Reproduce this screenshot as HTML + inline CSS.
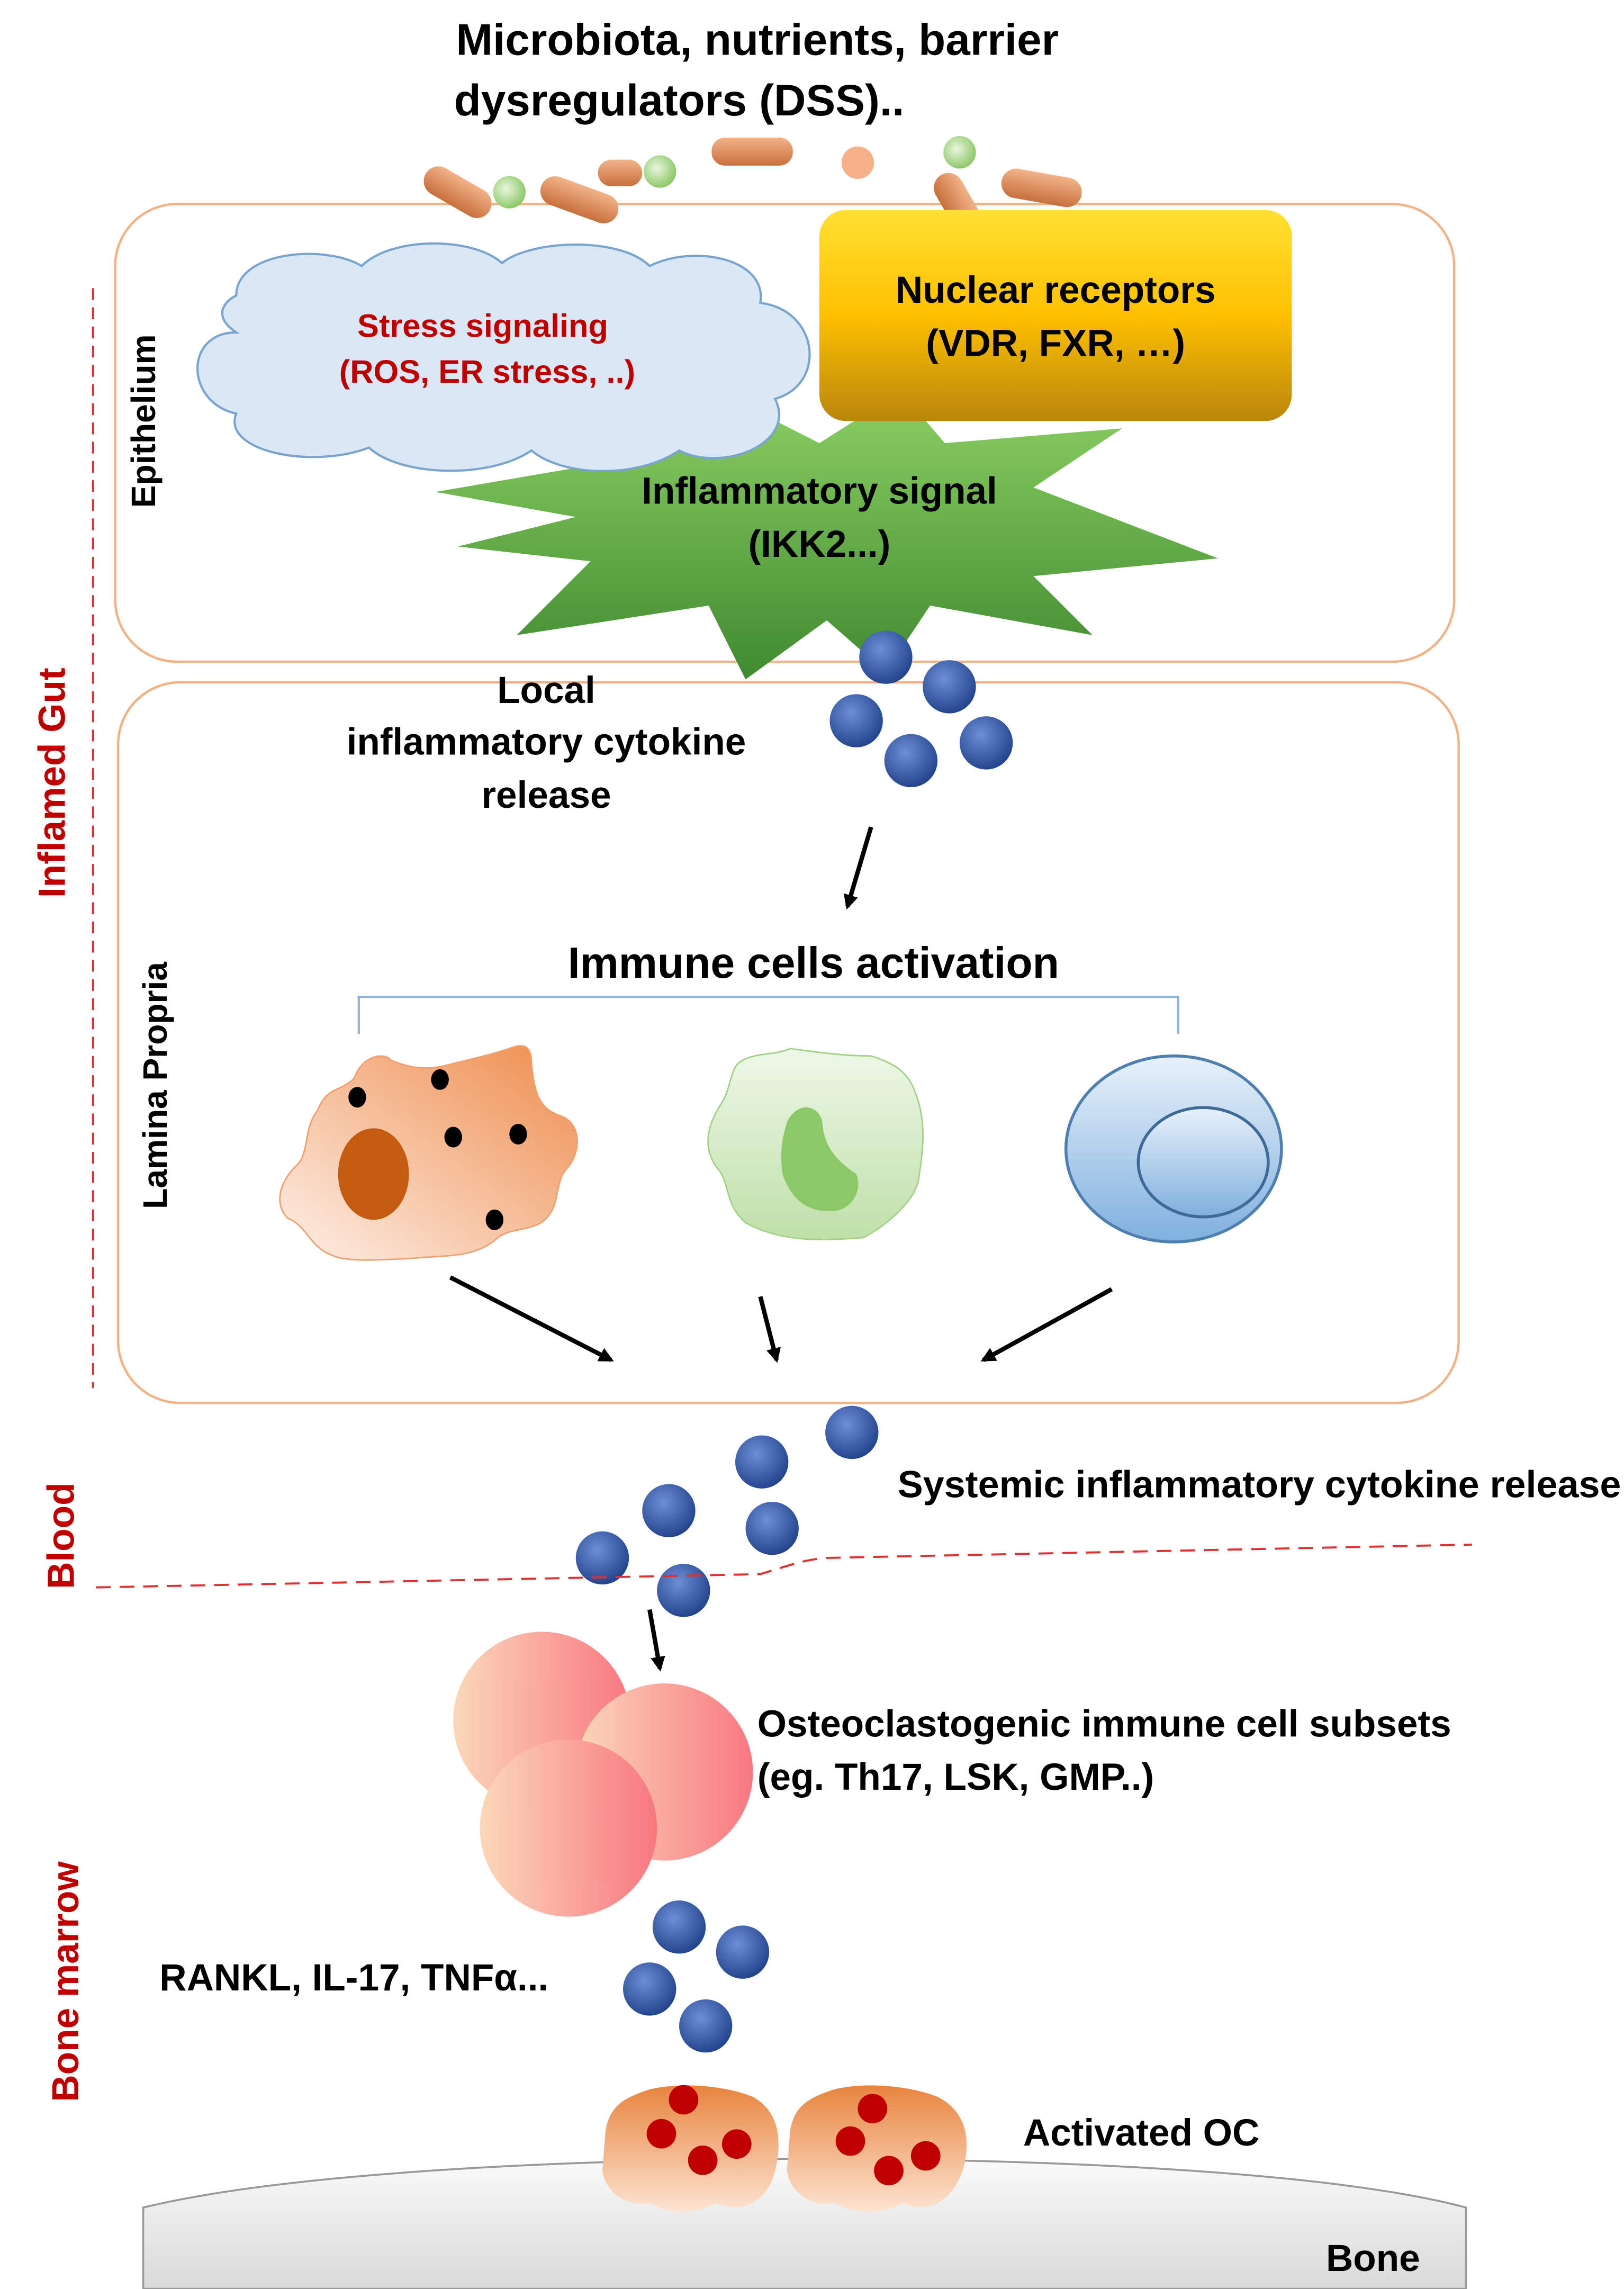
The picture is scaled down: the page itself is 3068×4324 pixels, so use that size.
<!DOCTYPE html>
<html><head><meta charset="utf-8"><style>html,body{margin:0;padding:0;background:#fff}svg{display:block}</style></head>
<body>
<svg width="3068" height="4324" viewBox="0 0 1100 1550" xmlns="http://www.w3.org/2000/svg" font-family="Liberation Sans, sans-serif" font-weight="bold">
<defs>
<linearGradient id="gold" x1="0" y1="0" x2="0" y2="1"><stop offset="0" stop-color="#ffe033"/><stop offset="0.5" stop-color="#ffc000"/><stop offset="1" stop-color="#b8860b"/></linearGradient>
<linearGradient id="green" x1="0" y1="0" x2="0" y2="1"><stop offset="0" stop-color="#8ccf63"/><stop offset="1" stop-color="#3f8a30"/></linearGradient>
<radialGradient id="ball" cx="0.4" cy="0.35" r="0.7"><stop offset="0" stop-color="#6d8fd6"/><stop offset="1" stop-color="#203f8a"/></radialGradient>
<linearGradient id="rod" x1="0" y1="0" x2="0" y2="1"><stop offset="0" stop-color="#f2b38a"/><stop offset="1" stop-color="#c8703c"/></linearGradient>
<radialGradient id="gdot" cx="0.4" cy="0.4" r="0.6"><stop offset="0" stop-color="#e9f6de"/><stop offset="1" stop-color="#8fc96b"/></radialGradient>
<linearGradient id="orng" x1="1" y1="0" x2="0" y2="1"><stop offset="0" stop-color="#ee8c4c"/><stop offset="1" stop-color="#fdf0e8"/></linearGradient>
<linearGradient id="lgrn" x1="0" y1="0" x2="0" y2="1"><stop offset="0" stop-color="#eef7e8"/><stop offset="1" stop-color="#bfe0a8"/></linearGradient>
<linearGradient id="lblu" x1="0" y1="0" x2="0" y2="1"><stop offset="0" stop-color="#e8f1fa"/><stop offset="1" stop-color="#7fb0de"/></linearGradient>
<linearGradient id="pink" x1="0" y1="0" x2="1" y2="0"><stop offset="0" stop-color="#fbd6b6"/><stop offset="1" stop-color="#f8707a"/></linearGradient>
<linearGradient id="bone" x1="0" y1="0" x2="0" y2="1"><stop offset="0" stop-color="#fafafa"/><stop offset="1" stop-color="#d9d9d9"/></linearGradient>
<linearGradient id="oc" x1="0" y1="0" x2="0" y2="1"><stop offset="0" stop-color="#e8843e"/><stop offset="1" stop-color="#fde4d2"/></linearGradient>
<marker id="ar" markerWidth="10" markerHeight="10" refX="8" refY="5" orient="auto" markerUnits="userSpaceOnUse"><path d="M0,0 L10,5 L0,10 z" fill="#000"/></marker>
</defs>

<text x="513" y="37" font-size="30" text-anchor="middle">Microbiota, nutrients, barrier</text>
<text x="460" y="78" font-size="30" text-anchor="middle">dysregulators (DSS)..</text>

<rect x="78" y="138" width="907" height="310" rx="42" fill="none" stroke="#f4b183" stroke-width="1.6"/>
<rect x="80" y="462" width="908" height="488" rx="42" fill="none" stroke="#f4b183" stroke-width="1.6"/>

<g stroke="none">
<rect x="285" y="120" width="50" height="20" rx="10" fill="url(#rod)" transform="rotate(30 310 130)"/>
<rect x="365" y="125" width="55" height="20" rx="10" fill="url(#rod)" transform="rotate(20 392 135)"/>
<rect x="482" y="93" width="55" height="19" rx="9" fill="url(#rod)"/>
<rect x="678" y="117" width="55" height="20" rx="10" fill="url(#rod)" transform="rotate(10 705 127)"/>
<rect x="625" y="130" width="50" height="20" rx="10" fill="url(#rod)" transform="rotate(60 650 140)"/>
<rect x="405" y="108" width="30" height="18" rx="9" fill="url(#rod)"/>
<circle cx="345" cy="130" r="11" fill="url(#gdot)"/>
<circle cx="447" cy="116" r="11" fill="url(#gdot)"/>
<circle cx="650" cy="103" r="11" fill="url(#gdot)"/>
<circle cx="581" cy="110" r="11" fill="#f6b08a"/>
</g>

<polygon points="295,333 400,315 380,280 470,300 500,272 555,300 610,265 640,300 760,290 700,330 825,378 700,390 740,430 630,410 600,455 560,420 505,460 480,410 350,430 400,380 310,370 390,350" fill="url(#green)"/>

<path d="M160,200 C160,170 220,165 245,180 C265,160 320,160 340,178 C360,162 420,160 440,180 C470,165 520,175 515,205 C555,210 560,260 525,270 C540,300 490,320 460,305 C430,325 380,322 360,305 C330,325 270,322 250,303 C210,318 150,305 160,280 C125,272 125,225 160,225 C145,215 150,205 160,200 Z" fill="#dae8f5" stroke="#7aa3d0" stroke-width="1.5"/>
<text x="327" y="228" font-size="22" fill="#c00000" text-anchor="middle">Stress signaling</text>
<text x="330" y="259" font-size="22" fill="#c00000" text-anchor="middle">(ROS, ER stress, ..)</text>

<rect x="555" y="142" width="320" height="143" rx="18" fill="url(#gold)"/>
<text x="715" y="205" font-size="25.5" text-anchor="middle">Nuclear receptors</text>
<text x="715" y="241" font-size="25.5" text-anchor="middle">(VDR, FXR, …)</text>

<text x="555" y="341" font-size="25.5" text-anchor="middle">Inflammatory signal</text>
<text x="555" y="377" font-size="25.5" text-anchor="middle">(IKK2...)</text>

<line x1="63" y1="195" x2="63" y2="940" stroke="#e03030" stroke-width="1.4" stroke-dasharray="8,5"/>
<text transform="translate(44 530) rotate(-90)" font-size="25.5" fill="#c00000" text-anchor="middle">Inflamed Gut</text>
<text transform="translate(105 285) rotate(-90)" font-size="23" text-anchor="middle">Epithelium</text>
<text transform="translate(113 735) rotate(-90)" font-size="23" text-anchor="middle">Lamina Propria</text>
<text transform="translate(50 1040) rotate(-90)" font-size="25.5" fill="#c00000" text-anchor="middle">Blood</text>
<text transform="translate(53 1342) rotate(-90)" font-size="25.5" fill="#c00000" text-anchor="middle">Bone marrow</text>

<g fill="url(#ball)">
<circle cx="600" cy="445" r="18"/><circle cx="643" cy="465" r="18"/><circle cx="580" cy="488" r="18"/><circle cx="668" cy="503" r="18"/><circle cx="617" cy="515" r="18"/>
<circle cx="577" cy="970" r="18"/><circle cx="516" cy="990" r="18"/><circle cx="453" cy="1023" r="18"/><circle cx="523" cy="1035" r="18"/><circle cx="408" cy="1055" r="18"/><circle cx="463" cy="1077" r="18"/>
<circle cx="460" cy="1305" r="18"/><circle cx="503" cy="1322" r="18"/><circle cx="440" cy="1347" r="18"/><circle cx="478" cy="1372" r="18"/>
</g>

<text x="370" y="476" font-size="25.5" text-anchor="middle">Local</text>
<text x="370" y="511" font-size="25.5" text-anchor="middle">inflammatory cytokine</text>
<text x="370" y="547" font-size="25.5" text-anchor="middle">release</text>

<g stroke="#000" stroke-width="3" marker-end="url(#ar)">
<line x1="590" y1="560" x2="574" y2="614"/>
<line x1="305" y1="865" x2="414" y2="921"/>
<line x1="515" y1="878" x2="526" y2="921"/>
<line x1="753" y1="873" x2="666" y2="921"/>
<line x1="440" y1="1090" x2="447" y2="1130"/>
</g>

<text x="551" y="662" font-size="29.5" text-anchor="middle">Immune cells activation</text>
<path d="M243,700 V675 H798 V700" fill="none" stroke="#8fb0d8" stroke-width="1.5"/>

<path d="M215,752 C222,735 230,740 240,730 C245,715 260,712 265,718 C275,722 285,725 300,722 C315,718 330,715 345,710 C355,706 360,708 360,720 C362,740 365,750 378,755 C395,760 393,780 385,790 C375,800 380,815 370,825 C360,835 345,830 335,840 C320,852 300,850 280,852 C260,853 235,855 225,850 C210,845 208,830 195,825 C185,815 190,800 200,790 C210,782 205,765 215,752 Z" fill="url(#orng)" stroke="#f0a070" stroke-width="1"/>
<ellipse cx="253" cy="795" rx="24" ry="31" fill="#c55a11"/>
<g fill="#000"><ellipse cx="242" cy="743" rx="6" ry="7"/><ellipse cx="298" cy="731" rx="6" ry="7"/><ellipse cx="307" cy="770" rx="6" ry="7"/><ellipse cx="351" cy="768" rx="6" ry="7"/><ellipse cx="335" cy="826" rx="6" ry="7"/></g>
<path d="M500,720 C510,712 525,715 535,710 C550,712 570,715 590,715 C605,720 615,725 620,740 C628,760 625,780 622,800 C618,815 600,830 585,838 C560,840 530,842 505,828 C490,815 495,800 485,790 C475,775 480,760 490,745 C495,735 495,725 500,720 Z" fill="url(#lgrn)" stroke="#a5d08a" stroke-width="1"/>
<path d="M533,760 C540,745 555,748 557,760 C558,775 565,785 580,795 C585,808 575,822 560,820 C545,820 535,810 530,795 C528,780 530,770 533,760 Z" fill="#8cc86a"/>
<ellipse cx="795" cy="778" rx="73" ry="63" fill="url(#lblu)" stroke="#4f7fb0" stroke-width="2"/>
<ellipse cx="815" cy="787" rx="44" ry="37" fill="url(#lblu)" stroke="#3f6a98" stroke-width="2"/>

<text x="608" y="1014" font-size="25.5" textLength="490" lengthAdjust="spacingAndGlyphs">Systemic inflammatory cytokine release</text>
<path d="M65,1075 L515,1066 C535,1060 545,1056 560,1055 L997,1046" fill="none" stroke="#e03030" stroke-width="1.4" stroke-dasharray="10,6"/>

<g opacity="0.95">
<circle cx="367" cy="1165" r="60" fill="url(#pink)"/>
<circle cx="450" cy="1200" r="60" fill="url(#pink)"/>
<circle cx="385" cy="1238" r="60" fill="url(#pink)"/>
</g>
<text x="513" y="1176" font-size="25.5" textLength="470" lengthAdjust="spacingAndGlyphs">Osteoclastogenic immune cell subsets</text>
<text x="513" y="1212" font-size="25.5">(eg. Th17, LSK, GMP..)</text>

<text x="108" y="1348" font-size="25.5">RANKL, IL-17, TNFα...</text>

<path d="M97,1550 L97,1495 C200,1470 400,1462 550,1462 C700,1462 900,1470 993,1495 L993,1550 Z" fill="url(#bone)" stroke="#999" stroke-width="1.3"/>
<text x="930" y="1538" font-size="25.5" text-anchor="middle">Bone</text>

<path d="M410,1445 C412,1425 425,1420 440,1415 C460,1410 490,1412 510,1420 C528,1430 530,1450 525,1470 C520,1490 505,1500 485,1492 C470,1500 455,1500 440,1492 C425,1495 410,1485 408,1470 Z" fill="url(#oc)"/>
<path d="M535,1445 C537,1425 550,1420 565,1415 C585,1410 615,1412 635,1420 C655,1430 658,1450 652,1470 C645,1490 630,1500 612,1492 C595,1500 580,1500 565,1492 C550,1495 535,1485 533,1470 Z" fill="url(#oc)"/>
<g fill="#c00000"><circle cx="463" cy="1422" r="10"/><circle cx="448" cy="1445" r="10"/><circle cx="476" cy="1463" r="10"/><circle cx="499" cy="1452" r="10"/><circle cx="591" cy="1428" r="10"/><circle cx="576" cy="1450" r="10"/><circle cx="602" cy="1470" r="10"/><circle cx="627" cy="1460" r="10"/></g>
<text x="693" y="1453" font-size="25.5">Activated OC</text>
</svg>
</body></html>
